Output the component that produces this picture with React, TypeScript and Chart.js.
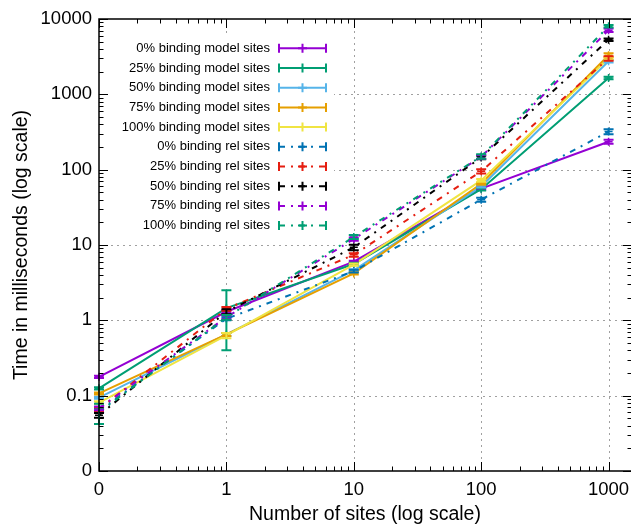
import React, { useEffect, useRef } from 'react';
import { Chart, registerables } from 'chart.js';

Chart.register(...registerables);

// x = 0 is drawn at 0.1 on the log axis (as labelled "0")
const xValues = [0.1, 1, 10, 100, 1000];
const xTickValues = [0.1, 1, 10, 100, 1000];
const xTickLabels = ['0', '1', '10', '100', '1000'];
const yTickValues = [0.01, 0.1, 1, 10, 100, 1000, 10000];
const yTickLabels = ['0', '0.1', '1', '10', '100', '1000', '10000'];

const seriesLabels = [
  '0% binding model sites',
  '25% binding model sites',
  '50% binding model sites',
  '75% binding model sites',
  '100% binding model sites',
  '0% binding rel sites',
  '25% binding rel sites',
  '50% binding rel sites',
  '75% binding rel sites',
  '100% binding rel sites',
];
const seriesColors = [
  '#9400d3', '#009e73', '#56b4e9', '#e69f00', '#f0e442',
  '#0072b2', '#e51e10', '#000000', '#9400d3', '#009e73',
];
const seriesDashed = [false, false, false, false, false, true, true, true, true, true];

const model0Vals = [0.178, 1.3, 6.0, 56, 235];
const model0Err = [0.006, 0.05, 0.2, 2, 15];
const model25Vals = [0.125, 1.45, 5.6, 55, 1650];
const model25Err = [0.004, 1.05, 0.2, 2, 60];
const model50Vals = [0.094, 0.65, 4.6, 60, 2750];
const model50Err = [0.003, 0.03, 0.15, 2, 100];
const model75Vals = [0.107, 0.65, 4.2, 65, 3300];
const model75Err = [0.003, 0.03, 0.15, 2, 200];
const model100Vals = [0.081, 0.63, 5.5, 72, 3000];
const model100Err = [0.003, 0.05, 0.2, 3, 100];
const rel0Vals = [0.063, 1.05, 4.5, 40, 320];
const rel0Err = [0.004, 0.05, 0.2, 2.5, 25];
const rel25Vals = [0.066, 1.42, 7.4, 95, 3000];
const rel25Err = [0.004, 0.08, 0.4, 6, 200];
const rel50Vals = [0.055, 1.3, 9.3, 145, 5300];
const rel50Err = [0.004, 0.1, 0.8, 8, 200];
const rel75Vals = [0.068, 1.1, 12, 148, 7100];
const rel75Err = [0.004, 0.06, 0.6, 8, 400];
const rel100Vals = [0.06, 1.1, 12.8, 150, 8000];
const rel100Err = [0.018, 0.08, 0.8, 10, 300];

const seriesValues = [
  model0Vals, model25Vals, model50Vals, model75Vals, model100Vals,
  rel0Vals, rel25Vals, rel50Vals, rel75Vals, rel100Vals,
];
const seriesErrors = [
  model0Err, model25Err, model50Err, model75Err, model100Err,
  rel0Err, rel25Err, rel50Err, rel75Err, rel100Err,
];

const FONT = '"Liberation Sans", Arial, sans-serif';
const DASH = [6, 6, 2, 6];

const gnuplotPlugin = {
  id: 'gnuplotPlugin',
  beforeDatasetsDraw(chart: any) {
    const { ctx, chartArea: a, scales } = chart;
    const x = scales.x;
    const y = scales.y;
    ctx.save();
    ctx.strokeStyle = '#a0a0a0';
    ctx.lineWidth = 1;
    ctx.setLineDash([2, 4]);
    xTickValues.slice(1).forEach((v) => {
      const px = Math.round(x.getPixelForValue(v)) + 0.5;
      ctx.beginPath();
      ctx.moveTo(px, a.top);
      ctx.lineTo(px, a.bottom);
      ctx.stroke();
    });
    yTickValues.slice(1, -1).forEach((v) => {
      const py = Math.round(y.getPixelForValue(v)) + 0.5;
      ctx.beginPath();
      ctx.moveTo(a.left, py);
      ctx.lineTo(a.right, py);
      ctx.stroke();
    });
    ctx.setLineDash([]);
    // opaque key box
    ctx.fillStyle = '#ffffff';
    ctx.fillRect(a.left + 1, a.top + 14, 234, 205);
    ctx.restore();
  },
  afterDatasetsDraw(chart: any) {
    const { ctx, chartArea: a, scales } = chart;
    const x = scales.x;
    const y = scales.y;
    ctx.save();
    // error bars
    ctx.lineWidth = 2;
    ctx.setLineDash([]);
    seriesValues.forEach((vals, i) => {
      ctx.strokeStyle = seriesColors[i];
      vals.forEach((v, j) => {
        const e = seriesErrors[i][j];
        const px = x.getPixelForValue(xValues[j]);
        const lo = y.getPixelForValue(Math.max(v - e, 0.01));
        const hi = y.getPixelForValue(v + e);
        ctx.beginPath();
        ctx.moveTo(px, lo);
        ctx.lineTo(px, hi);
        ctx.moveTo(px - 5, lo);
        ctx.lineTo(px + 5, lo);
        ctx.moveTo(px - 5, hi);
        ctx.lineTo(px + 5, hi);
        ctx.stroke();
      });
    });

    // border (right edge lies at the canvas edge)
    ctx.strokeStyle = '#000';
    ctx.lineWidth = 1.5;
    ctx.beginPath();
    ctx.moveTo(a.right + 2, a.top);
    ctx.lineTo(a.left, a.top);
    ctx.lineTo(a.left, a.bottom);
    ctx.lineTo(a.right + 2, a.bottom);
    ctx.stroke();

    // ticks (inward, mirrored)
    ctx.lineWidth = 1;
    const xMax = x.max;
    const rightEdge = a.right + 1;
    const tickX = (v: number, len: number) => {
      const px = Math.round(x.getPixelForValue(v)) + 0.5;
      ctx.beginPath();
      ctx.moveTo(px, a.bottom);
      ctx.lineTo(px, a.bottom - len);
      ctx.moveTo(px, a.top);
      ctx.lineTo(px, a.top + len);
      ctx.stroke();
    };
    const tickY = (v: number, len: number) => {
      const py = Math.round(y.getPixelForValue(v)) + 0.5;
      ctx.beginPath();
      ctx.moveTo(a.left, py);
      ctx.lineTo(a.left + len, py);
      ctx.moveTo(rightEdge, py);
      ctx.lineTo(rightEdge - len, py);
      ctx.stroke();
    };
    xTickValues.forEach((v) => tickX(v, 9));
    for (let d = -1; d <= 3; d++) {
      for (let m = 2; m <= 9; m++) {
        const v = m * Math.pow(10, d);
        if (v < xMax) tickX(v, 4.5);
      }
    }
    yTickValues.forEach((v) => tickY(v, 9));
    for (let d = -2; d <= 3; d++) {
      for (let m = 2; m <= 9; m++) {
        tickY(m * Math.pow(10, d), 4.5);
      }
    }

    // key
    const textRight = a.left + 171;
    const sx0 = a.left + 180;
    const sx1 = a.left + 227;
    ctx.font = `13px ${FONT}`;
    ctx.textAlign = 'right';
    ctx.textBaseline = 'middle';
    seriesLabels.forEach((label, i) => {
      const ry = a.top + 29.3 + i * 19.7;
      ctx.fillStyle = '#000';
      ctx.fillText(label, textRight, ry);
      ctx.strokeStyle = seriesColors[i];
      ctx.lineWidth = 2;
      ctx.setLineDash(seriesDashed[i] ? DASH : []);
      ctx.beginPath();
      ctx.moveTo(sx0, ry);
      ctx.lineTo(sx1, ry);
      ctx.stroke();
      ctx.setLineDash([]);
      ctx.beginPath();
      ctx.moveTo(sx0, ry - 4.5);
      ctx.lineTo(sx0, ry + 4.5);
      ctx.moveTo(sx1, ry - 4.5);
      ctx.lineTo(sx1, ry + 4.5);
      const cx = (sx0 + sx1) / 2;
      ctx.moveTo(cx, ry - 4.5);
      ctx.lineTo(cx, ry + 4.5);
      ctx.moveTo(cx - 4.5, ry);
      ctx.lineTo(cx + 4.5, ry);
      ctx.stroke();
    });
    ctx.restore();
  },
};

export default function App() {
  const canvasRef = useRef<HTMLCanvasElement | null>(null);

  useEffect(() => {
    if (!canvasRef.current) return;
    const datasets = seriesValues.map((vals, i) => ({
      label: seriesLabels[i],
      data: vals.map((v, j) => ({ x: xValues[j], y: v })),
      borderColor: seriesColors[i],
      backgroundColor: seriesColors[i],
      borderWidth: 2,
      borderDash: seriesDashed[i] ? DASH : [],
      pointStyle: 'cross',
      pointRadius: 4,
      pointBorderWidth: 1.5,
      pointBorderColor: seriesColors[i],
      fill: false,
      tension: 0,
      clip: false,
      order: -i,
    }));
    const chart = new Chart(canvasRef.current, {
      type: 'line',
      data: { datasets },
      plugins: [gnuplotPlugin],
      options: {
        animation: false,
        responsive: false,
        events: [],
        layout: { autoPadding: false, padding: { top: 19, left: 0, right: 0, bottom: 0 } },
        plugins: {
          legend: { display: false },
          tooltip: { enabled: false },
          title: { display: false },
        },
        scales: {
          x: {
            type: 'logarithmic',
            min: 0.1,
            max: 1500,
            grid: { display: false, drawTicks: false },
            border: { display: false },
            afterBuildTicks: (s: any) => {
              s.ticks = xTickValues.map((v) => ({ value: v }));
            },
            afterFit: (s: any) => {
              s.height = 53;
              s.paddingLeft = 0;
              s.paddingRight = 0;
            },
            ticks: {
              autoSkip: false,
              maxRotation: 0,
              padding: 8,
              color: '#000',
              font: { family: FONT, size: 18.5 },
              callback: (_v: any, i: number) => xTickLabels[i],
            },
            title: {
              display: true,
              text: 'Number of sites (log scale)',
              color: '#000',
              font: { family: FONT, size: 19.5, lineHeight: 1 },
              padding: { top: 0, bottom: 0 },
            },
          },
          y: {
            type: 'logarithmic',
            min: 0.01,
            max: 10000,
            grid: { display: false, drawTicks: false },
            border: { display: false },
            afterBuildTicks: (s: any) => {
              s.ticks = yTickValues.map((v) => ({ value: v }));
            },
            afterFit: (s: any) => {
              s.width = 99;
              s.paddingTop = 0;
              s.paddingBottom = 0;
            },
            ticks: {
              autoSkip: false,
              padding: 7,
              color: '#000',
              font: { family: FONT, size: 18.5 },
              callback: (_v: any, i: number) => yTickLabels[i],
            },
            title: {
              display: true,
              text: 'Time in milliseconds (log scale)',
              color: '#000',
              font: { family: FONT, size: 19.5 },
              padding: { top: 10, bottom: 0 },
            },
          },
        },
      } as any,
    });
    return () => chart.destroy();
  }, []);

  return (
    <div style={{ position: 'absolute', left: 0, top: 0, width: 631, height: 524, background: '#fff' }}>
      <canvas ref={canvasRef} width={631} height={524} style={{ display: 'block' }} />
    </div>
  );
}
